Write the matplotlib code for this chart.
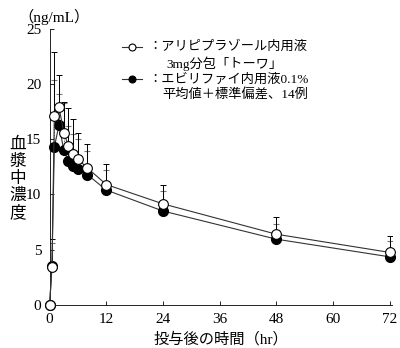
import matplotlib
matplotlib.use('Agg')
import matplotlib.pyplot as plt
from matplotlib.lines import Line2D

plt.rcParams['font.family'] = ['Liberation Serif', 'Noto Sans CJK JP']

# time after dosing (hr)
hours = [0, 0.5, 1, 2, 3, 4, 5, 6, 8, 12, 24, 48, 72]
# aripiprazole oral solution 3mg (Towa) - open circles
towaMean = [0, 3.4, 17.1, 17.9, 15.6, 14.4, 13.7, 13.2, 12.4, 10.9, 9.15, 6.4, 4.75]
towaSD = [0, 2.6, 5.8, 2.9, 2.8, 3.4, 3.1, 2.4, 2.2, 1.9, 1.75, 1.6, 1.45]
# Abilify oral solution 0.1% - filled circles
abilifyMean = [0, 3.5, 14.3, 16.3, 14.0, 13.0, 12.6, 12.3, 11.8, 10.4, 8.5, 5.95, 4.35]
abilifySD = [0, 2.1, 6.1, 2.8, 4.3, 3.2, 2.9, 2.7, 2.1, 1.8, 1.8, 1.35, 1.45]

xTicks = [0, 12, 24, 36, 48, 60, 72]
yTicks = [0, 5, 10, 15, 20, 25]

fig = plt.figure(figsize=[4, 3.48], dpi=100)
ax = fig.add_axes([0.124, 0.124, 0.856, 0.793])

# error bars (upper only)
eb = ax.errorbar(hours, abilifyMean, yerr=[[0]*len(abilifySD), abilifySD], fmt='none',
                 ecolor='#777777', elinewidth=0.8, capsize=2.5, capthick=0.8, zorder=2)
eb[2][0].set_linestyle((0, (1.5, 1)))
ax.errorbar(hours, towaMean, yerr=[[0]*len(towaSD), towaSD], fmt='none',
            ecolor='black', elinewidth=0.7, capsize=2.5, capthick=0.7, zorder=2)

ax.plot(hours, abilifyMean, '-', color='#333333', lw=0.8, marker='o', ms=7,
        mfc='black', mec='black', zorder=3, clip_on=False)
ax.plot(hours, towaMean, '-', color='#333333', lw=0.8, marker='o', ms=7,
        mfc='white', mec='black', mew=0.8, zorder=4, clip_on=False)

ax.set_xlim(0, 72.5)
ax.set_ylim(0, 25)
ax.set_xticks(xTicks)
ax.set_yticks(yTicks)
ax.tick_params(direction='in', length=3, width=0.6, labelsize=11, pad=6)
for s in ['top', 'right']:
    ax.spines[s].set_visible(False)
for s in ['left', 'bottom']:
    ax.spines[s].set_linewidth(0.6)

ax.set_xlabel('投与後の時間（hr）', fontsize=11, labelpad=4)
fig.text(0.045, 0.485, '血\n漿\n中\n濃\n度', fontsize=12, ha='center', va='center',
         linespacing=1.08)
fig.text(0.045, 0.952, '（ng/mL）', fontsize=11, ha='left', va='center')

# legend drawn by hand
fontLeg = 9.5
rowY = [0.865, 0.818, 0.772, 0.727]
for yy, face in [(rowY[0], 'white'), (rowY[2], 'black')]:
    fig.add_artist(Line2D([0.305, 0.355], [yy, yy], color='#333333', lw=0.8,
                          transform=fig.transFigure))
    fig.add_artist(Line2D([0.33], [yy], ls='', marker='o', ms=5, mfc=face,
                          mec='black', mew=0.8, transform=fig.transFigure))
fig.text(0.37, rowY[0], '：アリピプラゾール内用液', fontsize=fontLeg, va='center')
fig.text(0.415, rowY[1], '3mg分包「トーワ」', fontsize=fontLeg, va='center')
fig.text(0.37, rowY[2], '：エビリファイ内用液0.1%', fontsize=fontLeg, va='center')
fig.text(0.405, rowY[3], '平均値＋標準偏差、14例', fontsize=fontLeg, va='center')

fig.savefig('out.png', dpi=100)
